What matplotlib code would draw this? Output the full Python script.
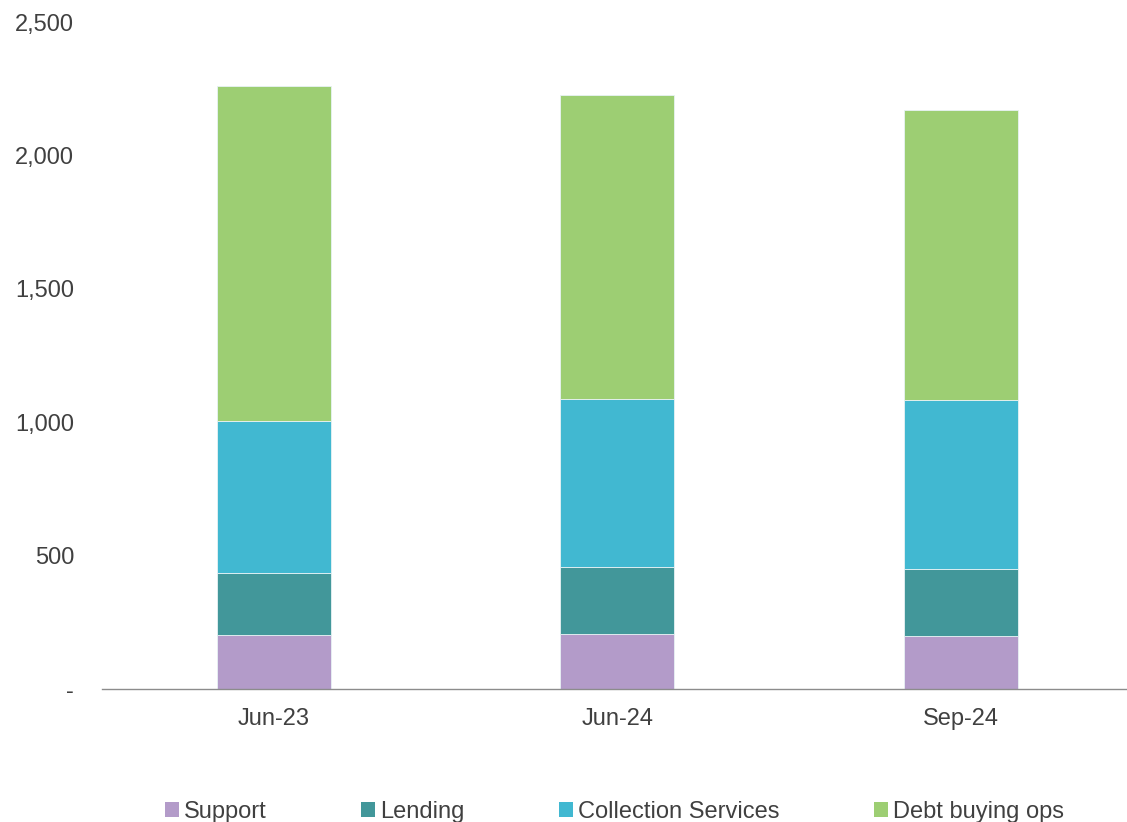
import matplotlib
matplotlib.use("Agg")
import matplotlib.pyplot as plt
from matplotlib.patches import Patch
from matplotlib.ticker import FixedLocator, FuncFormatter

plt.rcParams['font.family'] = ['Liberation Sans', 'DejaVu Sans']

periods = ["Jun-23", "Jun-24", "Sep-24"]
support = [203, 206, 199]
lending = [231, 253, 252]
collection = [569, 627, 631]
debt_buying = [1256, 1142, 1088]

series = [
    ("Support", support, "#B39BC9"),
    ("Lending", lending, "#42979A"),
    ("Collection Services", collection, "#41B8D1"),
    ("Debt buying ops", debt_buying, "#9DCE73"),
]

W, H = 1127, 822
fig = plt.figure(figsize=(W / 100, H / 100), dpi=100)
ax = fig.add_axes([102 / W, 1 - 689 / H, (1127 - 102) / W, (689 - 22) / H])

x = list(range(len(periods)))
bottom = [0.0] * len(periods)
handles = []
for name, vals, color in series:
    ax.bar(x, vals, width=0.332, bottom=bottom, color=color,
           edgecolor="#E8F2F4", linewidth=0.6)
    bottom = [b + v for b, v in zip(bottom, vals)]
    handles.append(Patch(facecolor=color, edgecolor="none", label=name))

ax.set_xlim(-0.5, 2.483)
ax.set_ylim(0, 2500)

for s in ["top", "right", "left"]:
    ax.spines[s].set_visible(False)
ax.spines["bottom"].set_color("#8C8C8C")
ax.spines["bottom"].set_linewidth(1.0)

ax.yaxis.set_major_locator(FixedLocator([0, 500, 1000, 1500, 2000, 2500]))
ax.yaxis.set_major_formatter(FuncFormatter(lambda v, p: "-" if v == 0 else f"{int(v):,}"))
ax.set_xticks(x)
ax.set_xticklabels(periods)
ax.tick_params(axis="both", length=0, labelsize=17, labelcolor="#404040")
ax.tick_params(axis="y", pad=20)
ax.tick_params(axis="x", pad=14)

leg = ax.legend(handles=handles, loc="center", bbox_to_anchor=(0.5, -0.1845),
                ncol=4, frameon=False, fontsize=17, handlelength=0.6,
                handleheight=0.6, handletextpad=0.2, columnspacing=4.0)
for t in leg.get_texts():
    t.set_color("#404040")

fig.savefig("out.png", dpi=100)
